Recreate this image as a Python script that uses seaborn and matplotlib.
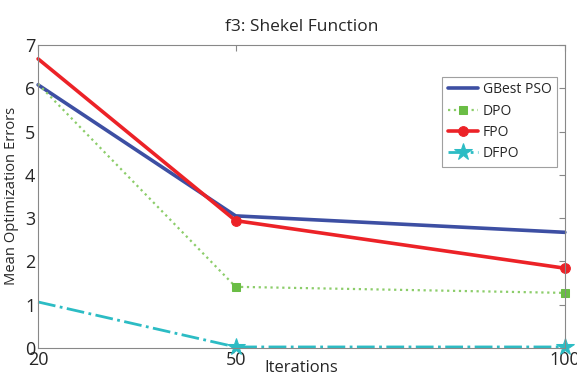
import numpy as np
import pandas as pd
import matplotlib
matplotlib.use('Agg')
import matplotlib.pyplot as plt
import seaborn as sns

# data
iterations = [20, 50, 100]
gbest_pso = [6.08, 3.05, 2.67]
dpo = [6.10, 1.41, 1.27]
fpo = [6.68, 2.94, 1.84]
dfpo = [1.06, 0.02, 0.02]

series_names = ['GBest PSO', 'DPO', 'FPO', 'DFPO']
series_values = [gbest_pso, dpo, fpo, dfpo]

df = pd.DataFrame({
    'Iterations': iterations * len(series_names),
    'Error': sum(series_values, []),
    'Method': np.repeat(series_names, len(iterations)),
})

sns.set_style('white')
plt.rcParams['font.family'] = ['Open Sans', 'DejaVu Sans']

styles = {
    'GBest PSO': dict(color='#3d4fa3', mcolor='#3d4fa3', linestyle='-', marker=None, lw=2.6),
    'DPO': dict(color='#8ccd6a', mcolor='#6abd45', linestyle=':', marker='s', lw=1.6, ms=6),
    'FPO': dict(color='#ec2227', mcolor='#ec2227', linestyle='-', marker='o', lw=2.6, ms=7),
    'DFPO': dict(color='#2cbcc4', mcolor='#2cbcc4', linestyle='-.', marker='*', lw=2.0, ms=13),
}

fig = plt.figure(figsize=(5.77, 3.72), dpi=100)
ax = fig.add_axes([0.066, 0.065, 0.913, 0.814])

for name in series_names:
    st = styles[name]
    sub = df[df['Method'] == name]
    sns.lineplot(data=sub, x='Iterations', y='Error', ax=ax, label=name,
                 color=st['color'], linestyle=st['linestyle'], linewidth=st['lw'],
                 marker=st['marker'], markersize=st.get('ms', 0), markevery=[1, 2],
                 markeredgecolor=st['mcolor'], markerfacecolor=st['mcolor'])

ax.set_xlim(20, 100)
ax.set_ylim(0, 7)
ax.set_xticks(iterations)
ax.set_yticks(range(0, 8))
ax.tick_params(direction='in', length=4, color='#888888', labelsize=13,
               top=True, right=True, pad=2)
for s in ax.spines.values():
    s.set_color('#888888')
    s.set_linewidth(0.8)

ax.set_title('f3: Shekel Function', fontsize=12.5, pad=10)
ax.set_xlabel('Iterations', fontsize=12, labelpad=-6)
ax.set_ylabel('Mean Optimization Errors', fontsize=10.6, labelpad=4)

leg = ax.legend(loc='upper right', bbox_to_anchor=(0.998, 0.918), fontsize=10,
                frameon=True, fancybox=False, handlelength=2.2, handletextpad=0.3,
                borderpad=0.4, labelspacing=0.45)
leg.get_frame().set_edgecolor('#888888')
leg.get_frame().set_linewidth(0.8)

for line in ax.get_lines():
    line.set_clip_on(False)

fig.savefig('out.png', dpi=100)
